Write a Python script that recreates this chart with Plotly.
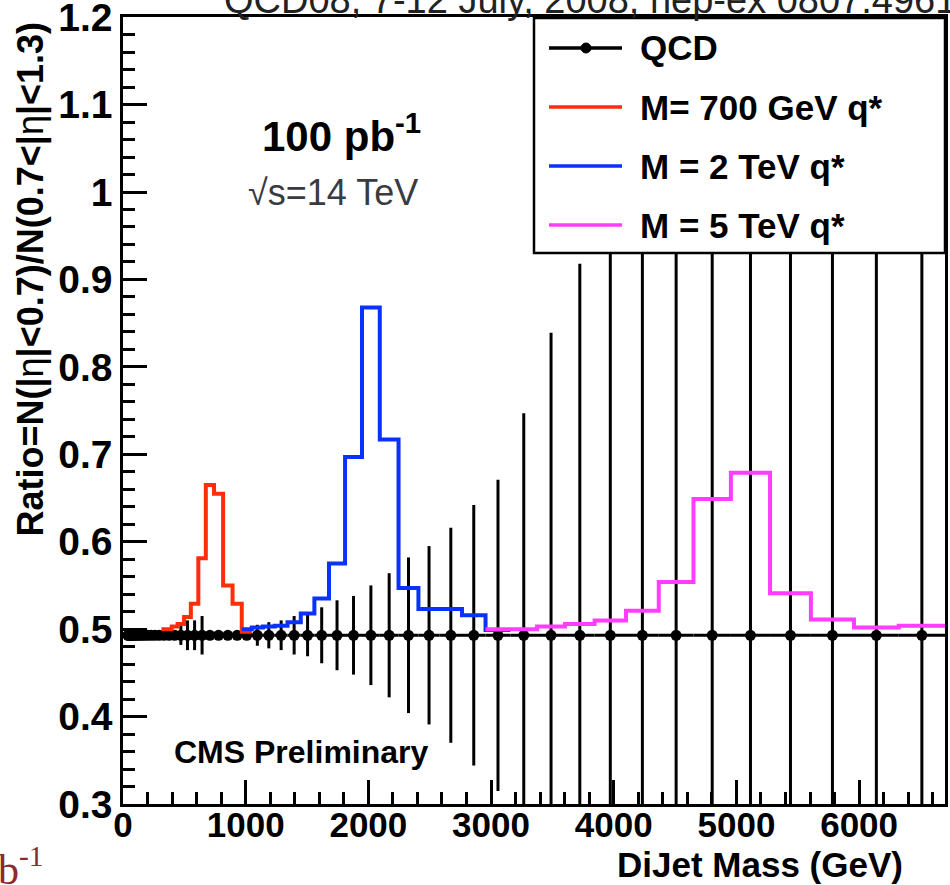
import plotly.graph_objects as go

# Dijet mass bin edges (GeV), resolution-sized bins
mass_edges = [36, 42, 49, 57, 66, 76, 87, 99, 113, 129,
              147, 167, 190, 216, 245, 277, 313, 354, 397, 445,
              498, 553, 614, 675, 742, 816, 893, 968, 1050, 1140,
              1237, 1341, 1449, 1560, 1679, 1810, 1948, 2093, 2246, 2408,
              2581, 2763, 2955, 3158, 3375, 3603, 3844, 4100, 4367, 4650,
              4955, 5274, 5607, 5958, 6323, 6700]

# QCD dijet ratio per bin and its statistical error (100 pb^-1)
qcd_ratio = [0.493, 0.493, 0.493, 0.493, 0.493, 0.493, 0.493, 0.493, 0.493, 0.493,
             0.493, 0.493, 0.493, 0.493, 0.493, 0.493, 0.493, 0.493, 0.493, 0.493,
             0.493, 0.493, 0.493, 0.493, 0.493, 0.493, 0.493, 0.493, 0.493, 0.493,
             0.493, 0.493, 0.493, 0.493, 0.493, 0.493, 0.493, 0.493, 0.493, 0.493,
             0.493, 0.493, 0.493, 0.493, 0.493, 0.493, 0.493, 0.493, 0.493, 0.493,
             0.493, 0.493, 0.493, 0.493, 0.493]
qcd_error = [0.003, 0.003, 0.003, 0.003, 0.003, 0.003, 0.003, 0.003, 0.003, 0.003,
             0.003, 0.003, 0.003, 0.003, 0.003, 0.003, 0.003, 0.003, 0.003, 0.011,
             0.017, 0.017, 0.022, 0.004, 0.004, 0.004, 0.004, 0.004, 0.012, 0.015,
             0.017, 0.022, 0.024, 0.032, 0.040, 0.045, 0.057, 0.071, 0.089, 0.102,
             0.123, 0.149, 0.178, 0.254, 0.346, 0.425, 0.56, 0.72, 0.88, 1.05,
             1.25, 1.45, 1.7, 2.0, 2.3]

# Excited quark signal + QCD ratio: first bin index and per-bin contents
qstar700_first = 16
qstar700_ratio = [0.500, 0.500, 0.503, 0.506, 0.514, 0.529, 0.581, 0.665, 0.655, 0.550,
                  0.529, 0.497]
qstar2000_first = 27
qstar2000_ratio = [0.500, 0.502, 0.503, 0.504, 0.508, 0.518, 0.535, 0.575, 0.697, 0.868,
                   0.717, 0.547, 0.523, 0.523, 0.516, 0.499]
qstar5000_first = 42
qstar5000_ratio = [0.500, 0.500, 0.503, 0.506, 0.510, 0.521, 0.554, 0.649, 0.679, 0.541,
                   0.511, 0.502, 0.504]

signals = [
    ("M= 700 GeV q*", "#FF2D0A", qstar700_first, qstar700_ratio),
    ("M = 2 TeV q*", "#0A32FF", qstar2000_first, qstar2000_ratio),
    ("M = 5 TeV q*", "#FF3DFF", qstar5000_first, qstar5000_ratio),
]

W, H = 950, 885
PLOT_L, PLOT_R, PLOT_T, PLOT_B = 123, 945, 17, 804
FONT = "Liberation Sans"


def px(x):
    return (x - PLOT_L) / (PLOT_R - PLOT_L)


def py(y):
    return (PLOT_B - y) / (PLOT_B - PLOT_T)


fig = go.Figure()

# QCD points: bin centres with horizontal bars spanning the bin
centres = [(lo + hi) / 2 for lo, hi in zip(mass_edges[:-1], mass_edges[1:])]
half_w = [(hi - lo) / 2 for lo, hi in zip(mass_edges[:-1], mass_edges[1:])]
fig.add_trace(go.Scatter(
    x=centres, y=qcd_ratio, mode="markers", name="QCD",
    marker=dict(color="black", size=11),
    error_x=dict(type="data", array=half_w, symmetric=True, width=0,
                 thickness=3, color="black"),
    error_y=dict(type="data", array=qcd_error, symmetric=True, width=0,
                 thickness=3, color="black"),
    showlegend=False,
))

# Signal histograms drawn as steps over their bin edges
for label, color, first, vals in signals:
    xs = mass_edges[first:first + len(vals) + 1]
    ys = list(vals) + [vals[-1]]
    fig.add_trace(go.Scatter(
        x=xs, y=ys, mode="lines", name=label, line_shape="hv",
        line=dict(color=color, width=4), showlegend=False,
    ))

shapes = []
annotations = []

# Legend box
shapes.append(dict(type="rect", xref="paper", yref="paper",
                   x0=px(534), x1=px(945), y0=py(253), y1=py(18),
                   line=dict(color="black", width=2.5), fillcolor="white",
                   layer="above"))
rows = [48, 107, 166, 225]
entries = [("QCD", "black")] + [(s[0], s[1]) for s in signals]
for (label, color), ry in zip(entries, rows):
    shapes.append(dict(type="line", xref="paper", yref="paper",
                       x0=px(549), x1=px(622), y0=py(ry), y1=py(ry),
                       line=dict(color=color, width=3.5), layer="above"))
    annotations.append(dict(xref="paper", yref="paper", x=px(638), y=py(ry),
                            xanchor="left", yanchor="middle", showarrow=False,
                            text=label,
                            font=dict(family=FONT, size=35, color="black",
                                      weight="bold")))
shapes.append(dict(type="circle", xref="paper", yref="paper",
                   x0=px(581), x1=px(591), y0=py(rows[0] + 5), y1=py(rows[0] - 5),
                   fillcolor="black", line=dict(color="black", width=1),
                   layer="above"))

# Text labels
annotations += [
    dict(xref="paper", yref="paper", x=px(341), y=py(133), showarrow=False,
         xanchor="center", yanchor="middle",
         text="<b>100 pb<sup>-1</sup></b>",
         font=dict(family=FONT, size=42, color="black")),
    dict(xref="paper", yref="paper", x=px(333), y=py(192), showarrow=False,
         xanchor="center", yanchor="middle", text="√s=14 TeV",
         font=dict(family=FONT, size=36, color="#3a3a42")),
    dict(xref="paper", yref="paper", x=px(172), y=py(752), showarrow=False,
         xanchor="left", yanchor="middle", text="CMS Preliminary",
         font=dict(family=FONT, size=32, color="black", weight="bold")),
    dict(xref="paper", yref="paper", x=px(905), y=py(864), showarrow=False,
         xanchor="right", yanchor="middle", text="DiJet Mass (GeV)",
         font=dict(family=FONT, size=35, color="black", weight="bold")),
    dict(xref="paper", yref="paper", x=px(30), y=py(20), showarrow=False,
         xanchor="center", yanchor="top", textangle=-90,
         text="<b>Ratio=N(|</b>η<b>|&lt;0.7)/N(0.7&lt;|</b>η<b>|&lt;1.3)</b>",
         font=dict(family=FONT, size=36, color="black")),
    dict(xref="paper", yref="paper", x=px(222), y=py(0), showarrow=False,
         xanchor="left", yanchor="middle",
         text="QCD08, 7-12 July, 2008, hep-ex 0807.4961",
         font=dict(family=FONT, size=38, color="#222222")),
    dict(xref="paper", yref="paper", x=px(45), y=py(866), showarrow=False,
         xanchor="right", yanchor="middle", text="pb<sup>-1</sup>",
         font=dict(family="Liberation Serif", size=42, color="#8B2A2A")),
]

axis_common = dict(
    showgrid=False, zeroline=False, showline=True, mirror=True,
    linecolor="black", linewidth=2.5,
    ticks="inside", tickcolor="black", tickwidth=2.5, ticklen=24,
    ticklabeloverflow="allow", automargin=False,
)

fig.update_layout(
    width=W, height=H,
    margin=dict(l=PLOT_L, r=W - PLOT_R, t=PLOT_T, b=H - PLOT_B,
                autoexpand=False),
    paper_bgcolor="white", plot_bgcolor="white",
    xaxis=dict(range=[0, 6700], dtick=1000, tick0=0,
               minor=dict(dtick=200, ticks="inside", ticklen=12,
                          tickcolor="black", tickwidth=2.5),
               tickfont=dict(family=FONT, size=35, color="black", weight="bold"),
               ticklabelstandoff=-12, **axis_common),
    yaxis=dict(range=[0.3, 1.2002], dtick=0.1, tick0=0.3,
               minor=dict(dtick=0.02, ticks="inside", ticklen=12,
                          tickcolor="black", tickwidth=2.5),
               tickfont=dict(family=FONT, size=39, color="black", weight="bold"),
               ticklabelstandoff=0, **axis_common),
    shapes=shapes,
    annotations=annotations,
    showlegend=False,
)

fig.write_html("out.html")
